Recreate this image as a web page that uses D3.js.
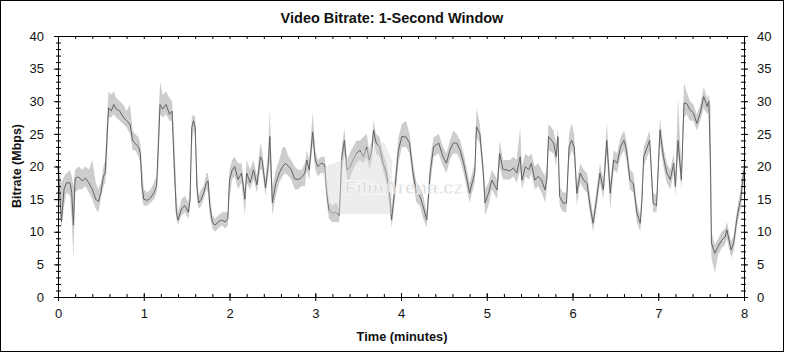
<!DOCTYPE html>
<html lang="en">
  <head>
    <meta charset="UTF-8">
    <title>Video Bitrate</title>
    <script src="https://cdn.jsdelivr.net/npm/d3@7"></script>
    <style>
      body { margin: 0; background: #fff; }
      text { font-family: "Liberation Sans", Arial, sans-serif; fill: #111; }
      .tick line, .domain { stroke: #000; }
    </style>
  </head>
  <body>
    <svg id="chart"></svg>

    <script>
      // time in minutes, bitrate in Mbps
      var times = [0.00,0.02,0.04,0.07,0.10,0.14,0.16,0.18,0.20,0.24,0.28,0.32,0.36,0.40,0.44,0.47,0.50,0.53,0.55,0.57,0.59,0.62,0.65,0.68,0.72,0.76,0.80,0.84,0.87,0.90,0.94,0.96,0.98,1.00,1.04,1.08,1.12,1.15,1.17,1.19,1.22,1.26,1.30,1.33,1.35,1.38,1.40,1.44,1.48,1.52,1.54,1.56,1.58,1.60,1.62,1.64,1.67,1.70,1.73,1.75,1.77,1.80,1.83,1.87,1.91,1.95,1.98,2.00,2.03,2.06,2.10,2.14,2.18,2.20,2.24,2.28,2.32,2.36,2.38,2.42,2.45,2.47,2.50,2.54,2.58,2.62,2.65,2.69,2.72,2.76,2.80,2.84,2.88,2.90,2.93,2.97,3.00,3.03,3.07,3.11,3.13,3.16,3.20,3.24,3.28,3.31,3.34,3.37,3.40,3.44,3.48,3.52,3.56,3.60,3.63,3.66,3.68,3.71,3.75,3.79,3.83,3.87,3.89,3.93,3.97,4.01,4.06,4.10,4.14,4.18,4.22,4.26,4.30,4.34,4.38,4.44,4.49,4.53,4.57,4.61,4.65,4.69,4.73,4.77,4.80,4.83,4.86,4.88,4.92,4.96,4.98,5.02,5.06,5.12,5.15,5.19,5.23,5.27,5.31,5.35,5.39,5.41,5.45,5.49,5.52,5.56,5.60,5.64,5.68,5.70,5.72,5.78,5.81,5.83,5.85,5.89,5.93,5.96,5.99,6.02,6.05,6.09,6.13,6.17,6.20,6.24,6.28,6.32,6.36,6.40,6.44,6.48,6.52,6.56,6.60,6.63,6.67,6.71,6.75,6.79,6.81,6.83,6.90,6.94,6.98,7.02,7.06,7.10,7.14,7.18,7.20,7.23,7.27,7.30,7.33,7.37,7.41,7.45,7.49,7.53,7.57,7.59,7.61,7.62,7.66,7.70,7.74,7.78,7.80,7.85,7.88,7.92,7.96,8.00];

      var avgRate = [19.8,16.0,11.5,16.5,17.5,17.5,16.0,11.0,18.2,18.4,17.8,18.2,17.5,16.5,15.0,14.6,16.0,18.5,19.0,24.0,29.0,28.5,29.5,28.8,28.5,27.6,27.0,26.5,24.0,23.5,23.0,22.0,17.0,15.0,14.8,15.2,16.0,17.0,23.0,29.5,28.8,29.5,28.0,28.5,22.0,13.0,11.8,13.5,14.0,13.0,15.0,26.0,27.0,26.0,17.0,14.4,15.0,16.0,17.5,17.8,14.0,11.5,11.0,11.5,11.8,11.5,12.0,18.0,19.4,20.0,18.0,19.0,15.0,19.0,17.5,19.5,17.2,21.5,21.0,16.7,20.0,24.6,14.4,17.4,19.0,20.0,20.5,20.0,19.5,18.1,18.0,18.3,19.0,21.0,19.5,25.3,21.0,20.0,20.5,20.3,16.4,13.3,12.8,13.0,12.5,21.5,24.0,19.5,19.8,21.0,22.0,22.5,21.5,23.0,21.0,22.5,25.6,23.6,23.0,20.5,19.0,15.3,11.8,16.7,22.5,24.6,24.5,23.6,19.0,16.0,15.5,13.8,11.8,19.0,23.0,23.6,21.5,20.5,22.5,23.6,23.6,22.5,20.5,17.9,15.9,17.5,19.0,26.1,25.0,19.0,14.4,15.9,17.9,16.4,22.0,19.5,19.5,19.3,19.8,19.0,21.5,17.9,20.0,19.5,20.5,17.9,18.5,17.9,16.4,18.0,24.6,23.6,21.5,24.6,15.4,14.4,14.4,23.0,24.0,23.0,15.9,19.0,17.9,17.4,14.4,11.3,14.9,19.0,16.4,24.0,15.9,21.0,20.5,23.0,24.0,22.5,17.9,17.4,12.9,11.3,14.9,21.5,24.0,14.4,14.0,25.6,21.5,19.0,18.0,20.5,16.9,24.0,17.9,29.7,29.7,28.7,28.2,26.6,28.2,30.7,29.2,30.0,20.0,8.3,6.7,7.8,8.7,9.2,10.3,7.2,8.3,12.3,14.9,19.5];

      var minRate = [17.5,13.5,10.5,14.0,16.0,15.5,12.0,5.7,16.0,16.5,16.5,17.0,16.0,15.0,13.5,13.0,15.0,17.0,17.5,20.0,27.5,27.5,28.0,27.5,27.0,26.5,26.0,25.0,22.5,22.5,21.5,20.5,15.0,14.0,14.0,14.5,15.0,16.0,20.0,28.0,27.5,28.0,27.0,27.0,19.0,12.0,11.0,12.5,13.0,12.0,13.5,23.0,25.5,24.5,15.0,13.5,14.0,15.0,16.5,16.0,12.5,10.5,10.0,10.5,11.0,10.5,11.0,15.0,18.0,18.5,16.5,17.5,12.5,17.5,16.5,18.0,16.0,19.5,19.5,15.5,18.5,21.0,12.5,15.5,17.5,18.5,19.0,18.5,18.0,16.5,16.5,17.0,17.0,19.5,18.0,23.5,19.5,18.5,19.0,19.0,15.0,12.0,11.5,11.5,11.5,19.5,22.0,18.0,18.0,19.5,20.5,21.0,20.5,21.5,19.5,21.0,24.0,22.0,21.5,19.5,17.5,13.5,10.6,15.0,20.5,23.0,23.0,22.0,17.5,14.5,14.0,12.0,10.6,17.0,21.5,22.0,20.0,19.0,21.0,22.0,22.0,21.0,19.0,16.5,14.5,16.0,17.5,24.5,23.5,17.5,12.5,14.0,16.5,15.0,20.0,18.0,18.0,18.0,18.5,17.5,19.5,16.5,18.5,18.0,19.0,16.5,17.0,16.0,14.5,16.5,22.5,22.0,20.0,23.0,14.0,13.0,13.0,21.0,22.5,21.5,14.0,17.5,16.5,16.0,13.0,10.0,13.5,17.5,15.0,22.0,13.5,19.5,19.0,21.5,22.5,21.0,16.5,16.0,11.5,10.0,13.5,20.0,22.5,13.0,13.0,23.5,20.0,17.5,16.5,19.0,15.5,22.0,16.5,27.5,28.0,27.0,27.0,25.5,27.0,29.0,28.0,28.5,12.0,6.0,3.7,6.5,7.5,8.0,9.0,6.0,7.0,11.0,13.5,17.5];

      var maxRate = [21.0,19.5,17.5,18.5,19.0,19.5,18.5,17.0,19.5,20.0,19.5,20.0,19.5,21.0,17.5,16.5,17.5,20.0,21.0,27.0,31.5,31.0,31.5,30.5,30.0,29.5,28.5,29.5,25.5,25.0,24.5,23.5,20.0,16.5,16.0,16.5,17.5,18.5,27.0,33.0,31.0,31.5,30.5,30.0,26.0,16.0,13.0,15.0,15.5,14.5,17.0,27.5,28.0,27.5,20.0,15.5,16.5,17.0,19.0,19.0,16.0,12.5,12.0,12.5,13.0,13.0,13.0,19.5,21.0,21.5,20.5,20.5,16.5,21.0,19.5,21.0,18.5,23.6,22.5,18.0,22.0,28.7,17.0,19.5,21.0,23.0,23.0,21.5,21.0,20.0,19.5,19.5,20.5,22.5,21.0,28.4,22.5,21.0,21.5,21.5,18.0,14.5,14.0,14.5,13.5,23.0,25.9,21.0,22.0,23.0,24.0,24.0,24.5,25.0,22.5,24.0,27.0,25.0,24.5,22.0,20.5,17.0,13.5,18.5,24.5,26.5,27.0,25.0,20.5,17.5,17.0,15.5,13.0,21.0,24.5,25.0,23.0,22.0,24.0,25.5,25.0,24.0,22.0,19.5,17.5,19.0,20.5,29.0,26.5,20.5,16.5,17.5,19.5,18.0,24.0,21.0,21.0,21.0,21.5,21.0,26.1,20.0,22.0,21.5,22.0,20.0,20.5,19.5,18.5,20.0,26.5,25.5,23.5,26.0,17.0,16.0,16.0,25.0,26.6,25.0,17.5,20.5,19.5,19.0,16.0,12.5,16.5,20.5,18.0,26.9,17.5,22.5,22.0,24.5,25.5,24.0,19.5,19.0,14.5,12.5,17.0,23.0,25.5,16.0,15.5,27.6,23.0,20.5,19.5,22.0,18.5,30.5,19.5,32.8,31.5,30.0,29.5,28.0,29.5,32.2,30.5,31.0,29.0,10.0,8.0,9.0,10.0,10.5,11.5,8.5,9.5,13.5,16.5,21.5];

      var minuteTicks = [0, 1, 2, 3, 4, 5, 6, 7, 8];
      var rateTicks = [0, 5, 10, 15, 20, 25, 30, 35, 40];

      var points = times.map(function(t, i) {
        return { t: t, avg: avgRate[i], lo: minRate[i], hi: maxRate[i] };
      });

      var width = 785, height = 353;
      var plotLeft = 58, plotRight = 744, plotTop = 36, plotBottom = 297;

      var svg = d3.select("#chart").attr("width", width).attr("height", height);

      var x = d3.scaleLinear().domain([0, 8]).range([plotLeft, plotRight]);
      var y = d3.scaleLinear().domain([0, 40]).range([plotBottom, plotTop]);

      // outer frame
      svg.append("rect")
          .attr("x", 0.5).attr("y", 0.5)
          .attr("width", width - 2).attr("height", height - 2)
          .attr("fill", "#fff").attr("stroke", "#000");

      // min/max band
      svg.append("path")
          .datum(points)
          .attr("fill", "#cdcdcd")
          .attr("d", d3.area()
            .x(function(d) { return x(d.t); })
            .y0(function(d) { return y(d.lo); })
            .y1(function(d) { return y(d.hi); }));

      // average line
      svg.append("path")
          .datum(points)
          .attr("fill", "none")
          .attr("stroke", "#626262")
          .attr("stroke-width", 1)
          .attr("d", d3.line()
            .x(function(d) { return x(d.t); })
            .y(function(d) { return y(d.avg); }));

      // watermark
      var wm = svg.append("g");
      wm.append("path")
          .attr("d", "M322,168 L384,142 L392,160 L392,214 L330,214 Z")
          .attr("fill", "#d8d8d8").attr("opacity", 0.45);
      wm.append("text")
          .attr("x", 404).attr("y", 194)
          .attr("text-anchor", "middle")
          .attr("font-size", 19).attr("font-weight", "bold")
          .style("fill", "#d2d2d2")
          .attr("opacity", 0.8)
          .attr("stroke", "#fff").attr("stroke-width", 0.8)
          .text("FilmArena.cz");

      var minorX = d3.range(0, 8.001, 0.2);
      var minorY = d3.range(0, 40.001, 1);

      function noLabels(g) { g.selectAll("text").remove(); }

      // bottom axis
      svg.append("g").attr("transform", "translate(0," + plotBottom + ")")
          .call(d3.axisTop(x).tickValues(minorX).tickSize(3).tickSizeOuter(0))
          .call(noLabels);
      svg.append("g").attr("transform", "translate(0," + plotBottom + ")")
          .call(d3.axisTop(x).tickValues(minuteTicks).tickSize(4).tickSizeOuter(0))
          .call(noLabels);
      var xb = svg.append("g").attr("transform", "translate(0," + plotBottom + ")")
          .call(d3.axisBottom(x).tickValues(minuteTicks).tickSize(4).tickSizeOuter(0).tickPadding(8));
      xb.selectAll("text").attr("font-size", 13).style("font-family", null);

      // top axis
      svg.append("g").attr("transform", "translate(0," + plotTop + ")")
          .call(d3.axisBottom(x).tickValues(minorX).tickSize(3).tickSizeOuter(0))
          .call(noLabels);

      // left axis
      svg.append("g").attr("transform", "translate(" + plotLeft + ",0)")
          .call(d3.axisRight(y).tickValues(minorY).tickSize(3).tickSizeOuter(0))
          .call(noLabels);
      svg.append("g").attr("transform", "translate(" + plotLeft + ",0)")
          .call(d3.axisLeft(y).tickValues(minorY).tickSize(2).tickSizeOuter(0))
          .call(noLabels);
      var yl = svg.append("g").attr("transform", "translate(" + plotLeft + ",0)")
          .call(d3.axisLeft(y).tickValues(rateTicks).tickSize(4).tickSizeOuter(0).tickPadding(10));
      yl.selectAll("text").attr("font-size", 13).style("font-family", null);

      // right axis
      svg.append("g").attr("transform", "translate(" + plotRight + ",0)")
          .call(d3.axisLeft(y).tickValues(minorY).tickSize(3).tickSizeOuter(0))
          .call(noLabels);
      svg.append("g").attr("transform", "translate(" + plotRight + ",0)")
          .call(d3.axisRight(y).tickValues(minorY).tickSize(2).tickSizeOuter(0))
          .call(noLabels);
      var yr = svg.append("g").attr("transform", "translate(" + plotRight + ",0)")
          .call(d3.axisRight(y).tickValues(rateTicks).tickSize(4).tickSizeOuter(0).tickPadding(9));
      yr.selectAll("text").attr("font-size", 13).style("font-family", null);

      // titles
      svg.append("text")
          .attr("x", 392).attr("y", 23)
          .attr("text-anchor", "middle")
          .attr("font-size", 14.5).attr("font-weight", "bold")
          .text("Video Bitrate: 1-Second Window");

      svg.append("text")
          .attr("x", 402).attr("y", 341)
          .attr("text-anchor", "middle")
          .attr("font-size", 12.8).attr("font-weight", "bold")
          .text("Time (minutes)");

      svg.append("text")
          .attr("transform", "translate(21,166) rotate(-90)")
          .attr("text-anchor", "middle")
          .attr("font-size", 12.5).attr("font-weight", "bold")
          .text("Bitrate (Mbps)");
    </script>
  </body>
</html>
